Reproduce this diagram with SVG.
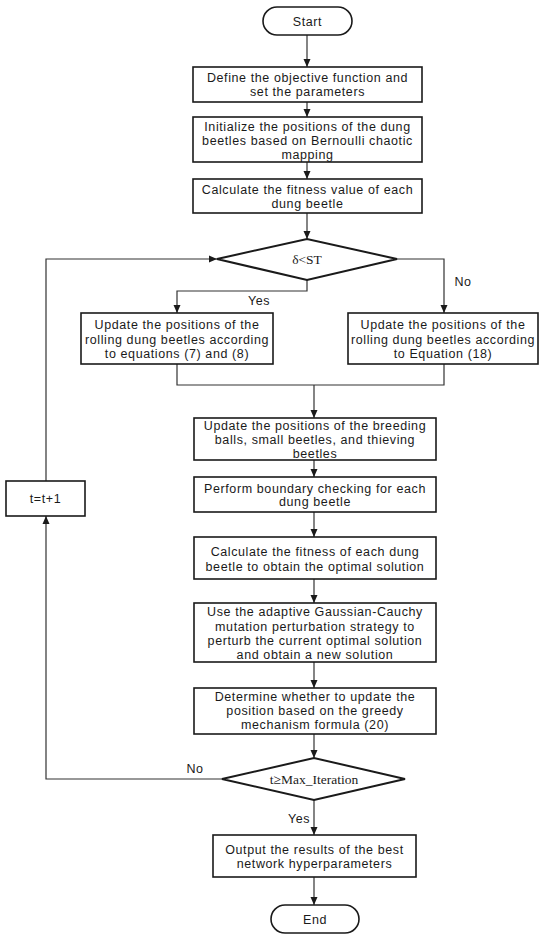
<svg xmlns="http://www.w3.org/2000/svg" width="550" height="942" viewBox="0 0 550 942">
<style>
.box{fill:#fff;stroke:#1a1a1a;stroke-width:1.6}
.dia{fill:#fff;stroke:#1a1a1a;stroke-width:2}
.t{font-family:"Liberation Sans",Arial,sans-serif;font-size:12.5px;fill:#1a1a1a;text-anchor:middle;letter-spacing:0.6px}
.s{font-family:"Liberation Serif","Times New Roman",serif;font-size:13.5px;fill:#1a1a1a;text-anchor:middle}
.c{fill:none;stroke:#333;stroke-width:1.2}
</style>
<defs>
<marker id="ah" markerUnits="userSpaceOnUse" markerWidth="8" markerHeight="8" refX="8" refY="4" orient="auto">
<path d="M0,0.5 L8,4 L0,7.5 z" fill="#1a1a1a"/>
</marker>
</defs>
<g id="connectors">
<path class="c" d="M307,35 V67" marker-end="url(#ah)"/>
<path class="c" d="M307,102 V117" marker-end="url(#ah)"/>
<path class="c" d="M307,162 V179" marker-end="url(#ah)"/>
<path class="c" d="M307,213 V239" marker-end="url(#ah)"/>
<path class="c" d="M307,280 V291 H177 V313" marker-end="url(#ah)"/>
<path class="c" d="M397,259 H444 V313" marker-end="url(#ah)"/>
<path class="c" d="M177,364 V385 H444 V364"/>
<path class="c" d="M314,385 V418" marker-end="url(#ah)"/>
<path class="c" d="M314,460 V477" marker-end="url(#ah)"/>
<path class="c" d="M314,512 V537" marker-end="url(#ah)"/>
<path class="c" d="M314,579 V603" marker-end="url(#ah)"/>
<path class="c" d="M314,662 V688" marker-end="url(#ah)"/>
<path class="c" d="M314,734 V758" marker-end="url(#ah)"/>
<path class="c" d="M314,800 V835" marker-end="url(#ah)"/>
<path class="c" d="M314,877 V905" marker-end="url(#ah)"/>
<path class="c" d="M222,779 H46 V516" marker-end="url(#ah)"/>
<path class="c" d="M46,481 V259 H217" marker-end="url(#ah)"/>
<text class="t" x="259" y="305">Yes</text>
<text class="t" x="463" y="286">No</text>
<text class="t" x="195" y="773">No</text>
<text class="t" x="299" y="823">Yes</text>
</g>
<g id="start">
<rect class="box" x="263" y="7" width="89" height="28" rx="14"/>
<text class="t" x="307.5" y="25.5">Start</text>
</g>
<g id="define">
<rect class="box" x="193" y="67" width="229" height="35"/>
<text class="t" x="307.5" y="82">Define the objective function and</text>
<text class="t" x="307.5" y="96">set the parameters</text>
</g>
<g id="init">
<rect class="box" x="193" y="117" width="229" height="45"/>
<text class="t" x="307.5" y="131">Initialize the positions of the dung</text>
<text class="t" x="307.5" y="145">beetles based on Bernoulli chaotic</text>
<text class="t" x="307.5" y="158.5">mapping</text>
</g>
<g id="fitness0">
<rect class="box" x="193" y="179" width="229" height="34"/>
<text class="t" x="307.5" y="194">Calculate the fitness value of each</text>
<text class="t" x="307.5" y="208">dung beetle</text>
</g>
<g id="decision1">
<polygon class="dia" points="217,259 307,239 397,259 307,280"/>
<text class="s" x="307" y="264">δ&lt;ST</text>
</g>
<g id="rollingYes">
<rect class="box" x="81" y="313" width="192" height="51"/>
<text class="t" x="177" y="329">Update the positions of the</text>
<text class="t" x="177" y="343.5">rolling dung beetles according</text>
<text class="t" x="177" y="358">to equations (7) and (8)</text>
</g>
<g id="rollingNo">
<rect class="box" x="348" y="313" width="190" height="51"/>
<text class="t" x="443" y="329">Update the positions of the</text>
<text class="t" x="443" y="343.5">rolling dung beetles according</text>
<text class="t" x="443" y="358">to Equation (18)</text>
</g>
<g id="breeding">
<rect class="box" x="194" y="418" width="242" height="42"/>
<text class="t" x="315" y="429.5">Update the positions of the breeding</text>
<text class="t" x="315" y="443.5">balls, small beetles, and thieving</text>
<text class="t" x="315" y="457.5">beetles</text>
</g>
<g id="boundary">
<rect class="box" x="194" y="477" width="242" height="35"/>
<text class="t" x="315" y="492.5">Perform boundary checking for each</text>
<text class="t" x="315" y="506">dung beetle</text>
</g>
<g id="fitness">
<rect class="box" x="194" y="537" width="242" height="42"/>
<text class="t" x="315" y="556">Calculate the fitness of each dung</text>
<text class="t" x="315" y="570.5">beetle to obtain the optimal solution</text>
</g>
<g id="gaussian">
<rect class="box" x="194" y="603" width="242" height="59"/>
<text class="t" x="315" y="616">Use the adaptive Gaussian-Cauchy</text>
<text class="t" x="315" y="630.5">mutation perturbation strategy to</text>
<text class="t" x="315" y="645">perturb the current optimal solution</text>
<text class="t" x="315" y="659">and obtain a new solution</text>
</g>
<g id="greedy">
<rect class="box" x="194" y="688" width="242" height="46"/>
<text class="t" x="315" y="701">Determine whether to update the</text>
<text class="t" x="315" y="715">position based on the greedy</text>
<text class="t" x="315" y="729">mechanism formula (20)</text>
</g>
<g id="decision2">
<polygon class="dia" points="222,779 314,758 405,779 314,800"/>
<text class="s" x="314" y="784">t≥Max_Iteration</text>
</g>
<g id="increment">
<rect class="box" x="6" y="481" width="79" height="35"/>
<text class="t" x="45.5" y="503">t=t+1</text>
</g>
<g id="output">
<rect class="box" x="213" y="835" width="203" height="42"/>
<text class="t" x="314.5" y="854">Output the results of the best</text>
<text class="t" x="314.5" y="868">network hyperparameters</text>
</g>
<g id="end">
<rect class="box" x="271" y="905" width="88" height="28" rx="14"/>
<text class="t" x="315" y="924">End</text>
</g>
</svg>
